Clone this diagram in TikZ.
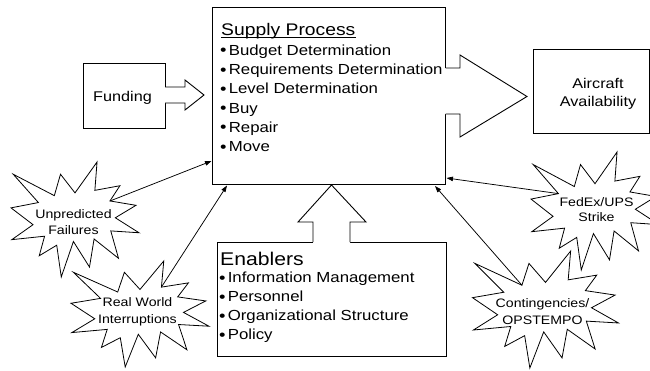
\documentclass[tikz,border=0pt]{standalone}
\usepackage{fontspec}
\setmainfont{Liberation Sans}[FakeStretch=1.15]
\usetikzlibrary{arrows.meta}
\newcommand\bul{\makebox[8.6pt][l]{\raisebox{-0.6pt}{\fontsize{16}{17}\selectfont •}}}
\newcommand\burstpath[4]{%
  \begin{scope}[shift={(#1,#2)},xscale=#3/1000,yscale=#4/1000]
    \draw[burst] (500,268.5) -- (672.3,0) -- (655.3,246.5) -- (850.9,206.3) -- (773.2,338.7) -- (976.7,376.7) -- (815.1,485.0) -- (1000,615.3) -- (779.5,599.2) -- (840.0,837.7) -- (649.1,669.3) -- (613.3,913.8) -- (487.6,691.4) -- (392.8,1000) -- (357.2,723.5) -- (220.5,815.6) -- (262.4,645.2) -- (6.25,675.3) -- (172.3,545.1) -- (0,398.8) -- (214.2,352.6) -- (17.1,106.3) -- (338.5,292.6) -- (386.7,106.3) -- cycle;
  \end{scope}}
\begin{document}
\begin{tikzpicture}[x=1pt,y=-1pt,
  box/.style={draw,line width=0.9pt,inner sep=0pt,outer sep=0pt,anchor=north west},
  blk/.style={line width=0.9pt,line join=miter},
  burst/.style={draw,fill=white,line width=0.8pt,line join=miter},
  conn/.style={line width=0.75pt,-{Triangle[length=6.5pt,width=4.5pt]}},
  item/.style={anchor=base west,inner sep=0pt,font=\fontsize{14.6}{17}\selectfont},
  head/.style={anchor=base west,inner sep=0pt},
  lbl/.style={anchor=base,inner sep=0pt,font=\fontsize{14.1}{17}\selectfont},
  btxt/.style={anchor=base,inner sep=0pt,font=\fontsize{12.3}{14}\selectfont}]
\useasboundingbox (0,0) rectangle (650,370);
\fill[white] (0,0) rectangle (650,370);

% boxes
\node[box,minimum width=233.5pt,minimum height=177.5pt] (supply) at (212,7) {};
\node[box,minimum width=229pt,minimum height=114pt] (enab) at (217,242) {};
\node[box,minimum width=82pt,minimum height=65pt] (fund) at (83,63) {};
\node[box,minimum width=116.2pt,minimum height=84pt] (air) at (533,49) {};

% block arrows
\fill[white] (444,68) -- (460,68) -- (460,55) -- (527,96.5) -- (460,137) -- (460,114) -- (444,114) -- cycle;
\draw[blk] (445.5,68) -- (460,68) -- (460,55) -- (527,96.5) -- (460,137) -- (460,114) -- (445.5,114);
\fill[white] (164,87) -- (185,87) -- (185,80) -- (204,95) -- (185,110) -- (185,103) -- (164,103) -- cycle;
\draw[blk] (165,87) -- (185,87) -- (185,80) -- (204,95) -- (185,110) -- (185,103) -- (165,103);
\fill[white] (313,243) -- (313,222) -- (298,222) -- (331.5,185) -- (366,222) -- (350,222) -- (350,243) -- cycle;
\draw[blk] (313,242) -- (313,222) -- (298,222) -- (331.5,185) -- (366,222) -- (350,222) -- (350,242);

% starbursts
\burstpath{71}{261}{138}{106}
\burstpath{11}{162}{128}{115}
\burstpath{531}{152}{128}{118}
\burstpath{472.5}{251}{146}{117}

% texts
\node[head,font=\fontsize{16.8}{20}\selectfont] (sh) at (221,35) {Supply Process};
\draw[line width=0.9pt] ([yshift=-2pt]sh.base west) -- ([yshift=-2pt]sh.base east);
\node[item] (s1) at (220,55) {\bul Budget Determination};
\node[item] (s2) at (220,74.5) {\bul Requirements Determination};
\node[item] (s3) at (220,93.5) {\bul Level Determination};
\node[item] (s4) at (220,113) {\bul Buy};
\node[item] (s5) at (220,132) {\bul Repair};
\node[item] (s6) at (220,151.5) {\bul Move};

\node[head,font=\fontsize{18.4}{22}\selectfont] (eh) at (220,265) {Enablers};
\node[item] (e1) at (219,282.7) {\bul Information Management};
\node[item] (e2) at (219,301.7) {\bul Personnel};
\node[item] (e3) at (219,320.5) {\bul Organizational Structure};
\node[item] (e4) at (219,339.5) {\bul Policy};

\node[lbl] (fl) at (122.5,101) {Funding};
\node[lbl] (a1) at (598,88) {Aircraft};
\node[lbl] (a2) at (598,106) {Availability};

\node[btxt] (uf1) at (73.5,218.3) {Unpredicted};
\node[btxt] (uf2) at (73.5,234.3) {Failures};
\node[btxt] (rw1) at (137.5,306.7) {Real World};
\node[btxt] (rw2) at (137.5,323.3) {Interruptions};
\node[btxt] (fx1) at (596.5,206) {FedEx/UPS};
\node[btxt] (fx2) at (596.5,221.7) {Strike};
\node[btxt] (ct1) at (542.5,307.3) {Contingencies/};
\node[btxt] (ct2) at (542.5,324.3) {OPSTEMPO};

% connectors
\coordinate (ufo) at (110,201);
\coordinate (ufi) at (211.5,161);
\coordinate (rwo) at (161.4,287.1);
\coordinate (rwi) at (227,185.5);
\coordinate (fxo) at (558.4,193.6);
\coordinate (fxi) at (446.5,178);
\coordinate (cto) at (521.9,285.2);
\coordinate (cti) at (435,186);
\draw[conn] (ufo) -- (ufi);
\draw[conn] (rwo) -- (rwi);
\draw[conn] (fxo) -- (fxi);
\draw[conn] (cto) -- (cti);
\end{tikzpicture}
\end{document}
